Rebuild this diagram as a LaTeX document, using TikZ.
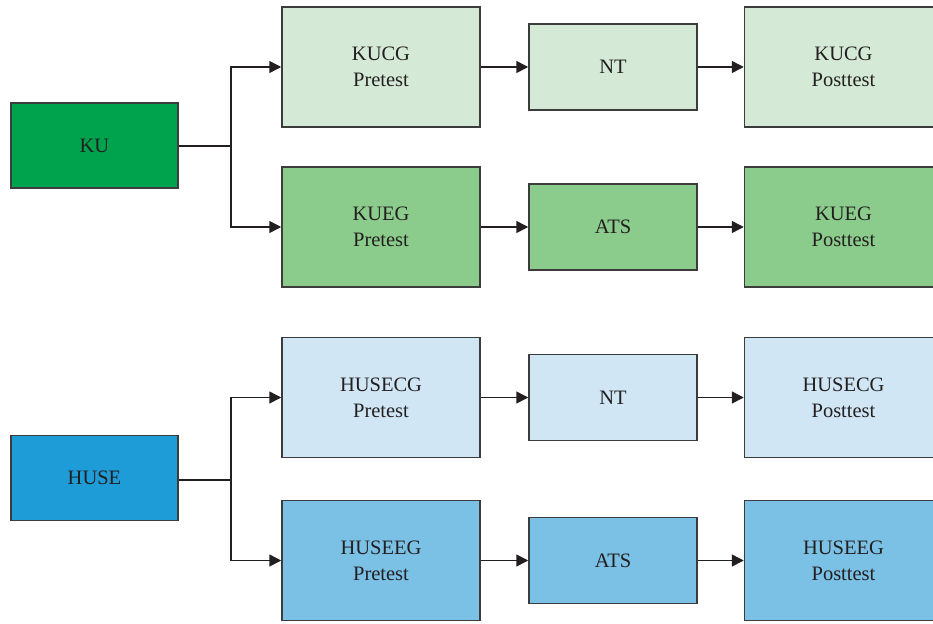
\documentclass[tikz,border=0pt]{standalone}
\usepackage{fontspec}
\setmainfont{Liberation Serif}
\usetikzlibrary{arrows.meta}
\definecolor{kudark}{HTML}{00A34D}
\definecolor{kulight}{HTML}{D5EAD6}
\definecolor{kumid}{HTML}{8BCC8C}
\definecolor{husedark}{HTML}{1E9CD8}
\definecolor{huselight}{HTML}{D0E6F4}
\definecolor{husemid}{HTML}{7BC0E5}
\definecolor{edge}{HTML}{3C3C3C}
\definecolor{ink}{HTML}{231F20}
\tikzset{
  x=1pt, y=-1pt,
  box/.style={draw=edge, line width=1.5pt, rectangle, align=center, inner sep=0pt,
    text=ink, font=\fontsize{20.5}{26}\selectfont},
  srcbox/.style={box, minimum width=167pt, minimum height=85pt},
  testbox/.style={box, minimum width=198pt, minimum height=120pt},
  midbox/.style={box, minimum width=168pt, minimum height=86pt},
  link/.style={draw=ink, line width=1.5pt, -{Triangle[length=12pt,width=12pt]}},
  plain/.style={draw=ink, line width=1.5pt}
}
\begin{document}
\begin{tikzpicture}
\useasboundingbox (0,0) rectangle (933,623);
% KU group
\node[srcbox, fill=kudark] (ku) at (94.5,145.5) {KU};
\node[testbox, fill=kulight] (kucgpre) at (381,67) {KUCG\\Pretest};
\node[midbox, fill=kulight] (kunt) at (613,67) {NT};
\node[testbox, fill=kulight] (kucgpost) at (843.5,67) {KUCG\\Posttest};
\node[testbox, fill=kumid] (kuegpre) at (381,227) {KUEG\\Pretest};
\node[midbox, fill=kumid] (kuats) at (613,227) {ATS};
\node[testbox, fill=kumid] (kuegpost) at (843.5,227) {KUEG\\Posttest};
\coordinate (kusplit) at (231,146);
\draw[plain] (ku.east |- kusplit) -- (kusplit);
\draw[link] (kusplit) |- (kucgpre.west);
\draw[link] (kusplit) |- (kuegpre.west);
\draw[link] (kucgpre) -- (kunt);
\draw[link] (kunt) -- (kucgpost);
\draw[link] (kuegpre) -- (kuats);
\draw[link] (kuats) -- (kuegpost);
% HUSE group
\node[srcbox, fill=husedark] (huse) at (94.5,478) {HUSE};
\node[testbox, fill=huselight] (hcgpre) at (381,397.5) {HUSECG\\Pretest};
\node[midbox, fill=huselight] (hnt) at (613,397.5) {NT};
\node[testbox, fill=huselight] (hcgpost) at (843.5,397.5) {HUSECG\\Posttest};
\node[testbox, fill=husemid] (hegpre) at (381,560.5) {HUSEEG\\Pretest};
\node[midbox, fill=husemid] (hats) at (613,560.5) {ATS};
\node[testbox, fill=husemid] (hegpost) at (843.5,560.5) {HUSEEG\\Posttest};
\coordinate (hsplit) at (231,480);
\draw[plain] (huse.east |- hsplit) -- (hsplit);
\draw[link] (hsplit) |- (hcgpre.west);
\draw[link] (hsplit) |- (hegpre.west);
\draw[link] (hcgpre) -- (hnt);
\draw[link] (hnt) -- (hcgpost);
\draw[link] (hegpre) -- (hats);
\draw[link] (hats) -- (hegpost);
\end{tikzpicture}
\end{document}
